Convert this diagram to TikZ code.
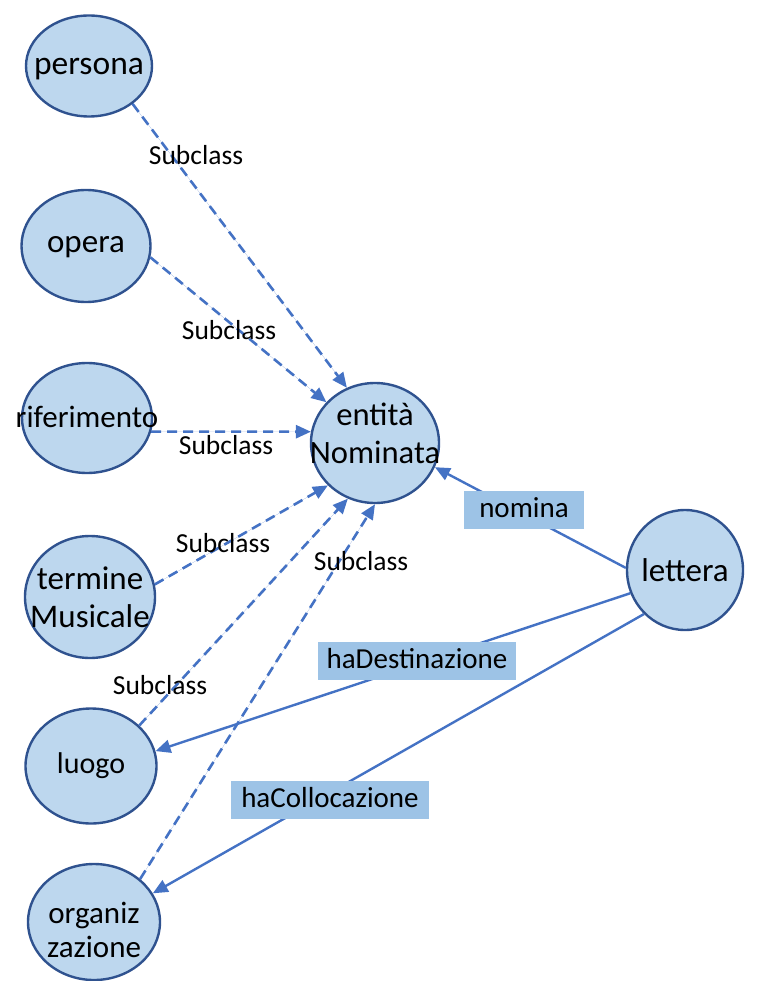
\documentclass[tikz,border=0pt]{standalone}
\usepackage{fontspec}
\setmainfont{Carlito}
\usetikzlibrary{shapes.geometric,arrows.meta}
\definecolor{nodefill}{HTML}{BDD7EE}
\definecolor{nodeline}{HTML}{2F528F}
\definecolor{edgeblue}{HTML}{4472C4}
\definecolor{labfill}{HTML}{9DC3E6}
\newcommand{\zb}[1]{\makebox[0pt]{#1}}
\tikzset{
  cls/.style={ellipse, draw=nodeline, fill=nodefill, line width=2.4pt, inner sep=0pt,
    align=center, font=\fontsize{33}{38}\selectfont},
  subedge/.style={draw=edgeblue, line width=2.6pt, dash pattern=on 10pt off 6pt,
    -{Triangle[length=15pt,width=13pt]}, fill=edgeblue},
  reledge/.style={draw=edgeblue, line width=2.4pt,
    -{Triangle[length=15pt,width=13pt]}},
  sublab/.style={font=\fontsize{27.5}{30}\selectfont, inner sep=0pt},
  rellab/.style={fill=labfill, font=\fontsize{29}{32}\selectfont, inner xsep=5pt,
    minimum height=38pt, text height=20pt, text depth=6pt},
}
\begin{document}
\begin{tikzpicture}[x=1pt,y=-1pt]
\path[use as bounding box] (0,0) rectangle (758,981);

\node[cls, minimum width=126pt, minimum height=101pt, font=\fontsize{33.5}{38}\selectfont,
  text height=18pt, text depth=0pt] (persona) at (89,66) {\zb{persona}};
\node[cls, minimum width=129pt, minimum height=112pt,
  text height=14pt, text depth=0pt] (opera) at (86,246) {\zb{opera}};
\node[cls, minimum width=130pt, minimum height=110pt, font=\fontsize{31}{36}\selectfont,
  text height=19pt, text depth=0pt] (rif) at (87,418) {\zb{riferimento}};
\node[cls, minimum width=130pt, minimum height=122pt] (term) at (90,597) {\zb{termine}\\\zb{Musicale}};
\node[cls, minimum width=131pt, minimum height=115pt, font=\fontsize{30}{34}\selectfont,
  text height=14pt, text depth=0pt] (luogo) at (91,766) {\zb{luogo}};
\node[cls, minimum width=132pt, minimum height=116pt, font=\fontsize{31}{34}\selectfont,
  text height=70pt, text depth=0pt] (org) at (94,922) {\zb{organiz}\\\zb{zazione}};
\node[cls, minimum width=128pt, minimum height=120pt, font=\fontsize{32.6}{38}\selectfont,
  text height=40pt, text depth=0pt] (ent) at (375,443) {\zb{entità}\\\zb{Nominata}};
\node[cls, minimum width=116pt, minimum height=120pt] (lett) at (685,570) {\zb{lettera}};

\draw[subedge] (persona.-41) -- (ent.117);
\draw[subedge] (opera.-10) -- (ent.140);
\draw[subedge] (rif.-12) -- (ent.170);
\draw[subedge] (term.11) -- (ent.222);
\draw[subedge] (luogo.40) -- (ent.244);
\draw[subedge] (org.43) -- (ent.270);

\draw[reledge] (lett.178) -- (ent.-22);
\draw[reledge] (lett.203) -- (luogo.13);
\draw[reledge] (lett.227) -- (org.26);

\node[sublab] (s1) at (196,155) {Subclass};
\node[sublab] (s2) at (229,330) {Subclass};
\node[sublab] (s3) at (226,445) {Subclass};
\node[sublab] (s4) at (223,543) {Subclass};
\node[sublab] (s5) at (160,685) {Subclass};
\node[sublab] (s6) at (361,561) {Subclass};

\node[rellab, minimum width=120pt] (l1) at (524,510) {nomina};
\node[rellab, minimum width=198pt] (l2) at (417,661) {haDestinazione};
\node[rellab, minimum width=198pt] (l3) at (330,800) {haCollocazione};
\end{tikzpicture}
\end{document}
